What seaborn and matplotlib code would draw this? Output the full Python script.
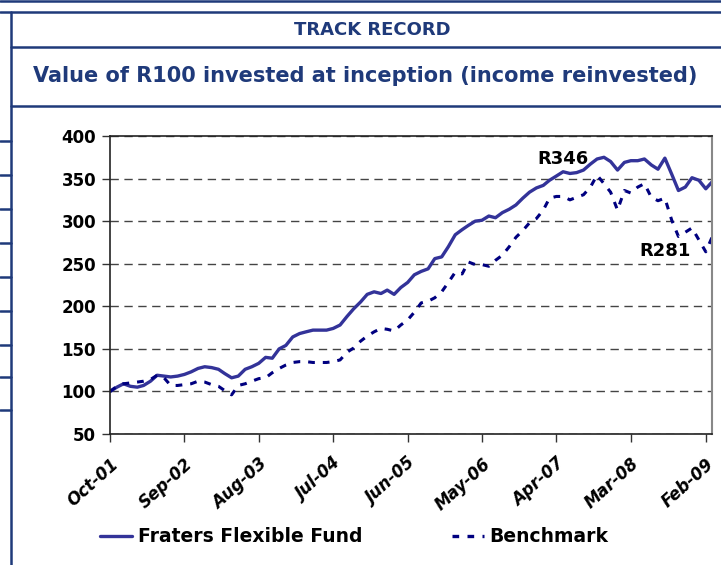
import matplotlib
matplotlib.use("Agg")
import matplotlib.pyplot as plt
from matplotlib.lines import Line2D
import seaborn as sns
import pandas as pd

# monthly values, Oct-01 .. Mar-09
fund = [100, 105, 109, 106, 105, 107, 112, 119, 118, 117,
        118, 120, 123, 127, 129, 128, 126, 121, 116, 118,
        126, 129, 133, 140, 139, 150, 154, 164, 168, 170,
        172, 172, 172, 174, 178, 188, 197, 205, 214, 217,
        215, 219, 214, 222, 228, 237, 241, 244, 256, 258,
        270, 284, 290, 295, 300, 301, 306, 304, 310, 314,
        319, 327, 334, 339, 342, 348, 353, 358, 356, 357,
        360, 367, 373, 375, 370, 360, 369, 371, 371, 373,
        366, 361, 374, 355, 336, 340, 351, 348, 338, 346]
benchmark = [100, 106, 109, 110, 111, 112, 114, 119, 116, 107,
             107, 108, 109, 112, 111, 108, 106, 101, 96, 107,
             109, 112, 115, 116, 122, 127, 131, 134, 135, 135,
             134, 134, 134, 135, 137, 146, 151, 159, 165, 170,
             174, 173, 171, 178, 184, 193, 204, 206, 210, 217,
             228, 240, 238, 252, 249, 249, 247, 254, 260, 270,
             281, 289, 298, 303, 313, 327, 329, 329, 325, 328,
             331, 340, 354, 344, 334, 313, 336, 333, 340, 344,
             328, 324, 327, 301, 282, 287, 292, 278, 264, 281]
dates = pd.date_range("2001-10-01", periods=len(fund), freq="MS")
series_names = ["Fraters Flexible Fund", "Benchmark"]
tick_dates = dates[::11]
tick_labels = [d.strftime("%b-%y") for d in tick_dates]
yticks = [50, 100, 150, 200, 250, 300, 350, 400]
notes = ["R346", "R281"]

NAVY = "#1f3a7a"
FUND_C = "#333399"
BENCH_C = "#000080"

sns.set_style("white")
plt.rcParams["font.family"] = ["DejaVu Sans"]
plt.rcParams["text.color"] = "black"

fig = plt.figure(figsize=(7.21, 5.65), dpi=100)
ax = fig.add_axes([110 / 721, 1 - 434 / 565, 602 / 721, 298 / 565])

df = pd.DataFrame({"date": dates, "fund": fund, "bench": benchmark})
sns.lineplot(data=df, x="date", y="fund", ax=ax, color=FUND_C, lw=2.4,
             label=series_names[0])
sns.lineplot(data=df, x="date", y="bench", ax=ax, color=BENCH_C, lw=2.2,
             label=series_names[1])
ax.lines[1].set_dashes((2.2, 2.6))

ax.set_xlim(dates[0], dates[-1])
ax.set_ylim(50, 400)
ax.set_yticks(yticks)
ax.set_yticklabels([str(v) for v in yticks], fontsize=12, fontweight="bold",
                   color="black")
ax.set_xticks(tick_dates)
ax.set_xticklabels(tick_labels, rotation=42, ha="right", va="top",
                   rotation_mode="anchor",
                   fontsize=12, fontweight="bold", fontstyle="italic", color="black")
ax.set_xlabel("")
ax.set_ylabel("")
ax.tick_params(axis="both", direction="out", length=6, width=1, color="#333333",
               left=True, bottom=True, pad=4)
ax.tick_params(axis="x", pad=9)
ax.yaxis.grid(True, linestyle=(0, (6, 4)), color="#444444", lw=1)
ax.xaxis.grid(False)
for side in ["left", "bottom", "top"]:
    ax.spines[side].set_color("#222222")
    ax.spines[side].set_linewidth(1.2)
ax.spines["right"].set_color("#888888")
ax.spines["right"].set_linewidth(1.5)

# end-value notes
ax.text(dates[67], 362, notes[0], fontsize=13, fontweight="bold",
        ha="center", va="bottom", color="black")
ax.text(dates[82], 254, notes[1], fontsize=13, fontweight="bold",
        ha="center", va="bottom", color="black")

ax.get_legend().remove()
handles = [Line2D([], [], color=FUND_C, lw=2.4),
           Line2D([], [], color=BENCH_C, lw=2.4, dashes=(2, 2.5))]
leg_x = [100, 452]
for h, name, lx in zip(handles, series_names, leg_x):
    fig.legend([h], [name], loc="center left", bbox_to_anchor=(lx / 721, 1 - 537 / 565),
               frameon=False, handlelength=1.7, handletextpad=0.3,
               borderpad=0, borderaxespad=0,
               prop={"weight": "bold", "size": 13.5})

# header texts
fig.text(372 / 721, 1 - 30 / 565, "TRACK RECORD", color=NAVY, fontsize=13,
         fontweight="bold", ha="center", va="center")
fig.text(365 / 721, 1 - 76 / 565,
         "Value of R100 invested at inception (income reinvested)",
         color=NAVY, fontsize=15, fontweight="bold", ha="center", va="center")

# table frame lines
def hline(y, x0=0, x1=721):
    fig.add_artist(Line2D([x0 / 721, x1 / 721], [1 - y / 565, 1 - y / 565],
                          color=NAVY, lw=1.8, transform=fig.transFigure))

hline(1)
hline(12)
hline(47, 11)
hline(106, 11)
fig.add_artist(Line2D([11 / 721, 11 / 721], [1 - 12 / 565, 0], color=NAVY, lw=1.8,
                      transform=fig.transFigure))
for y in [141, 175, 209, 243, 277, 311, 345, 377, 410]:
    hline(y, 0, 11)

fig.savefig("out.png", dpi=100)
